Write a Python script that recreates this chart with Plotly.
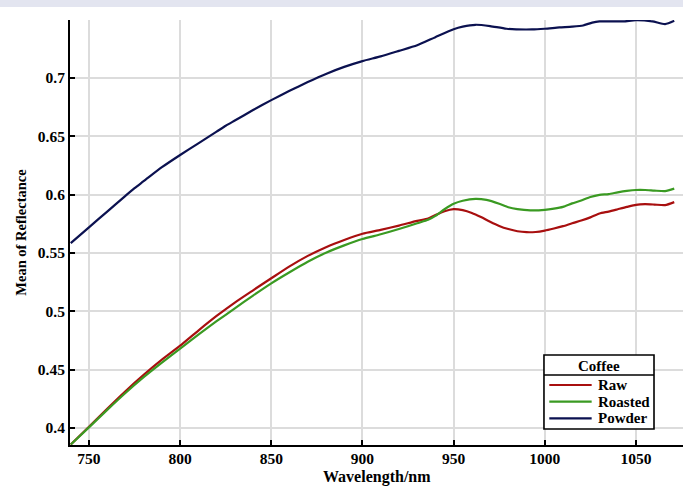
import plotly.graph_objects as go

# ---- data ----
powder_wl = [740, 750, 760, 770, 775, 780, 790, 800, 810, 820, 825, 830, 840, 850, 860, 870, 880,
             890, 900, 910, 920, 930, 940, 950, 955, 962, 970, 979, 993, 1000, 1008, 1015, 1021,
             1026, 1030, 1043, 1050, 1059, 1066, 1071]
powder = [0.5584, 0.5720, 0.5855, 0.5990, 0.6056, 0.6115, 0.6235, 0.6340, 0.6440, 0.6540, 0.6590,
          0.6635, 0.6725, 0.6810, 0.6890, 0.6965, 0.7035, 0.7095, 0.7145, 0.7185, 0.7232, 0.7280,
          0.7350, 0.7418, 0.7440, 0.7456, 0.7445, 0.7422, 0.7416, 0.7422, 0.7433, 0.7440, 0.7450,
          0.7475, 0.7485, 0.7485, 0.7495, 0.7485, 0.7462, 0.7490]

raw_wl = [740, 750, 760, 770, 780, 790, 800, 810, 820, 830, 840, 850, 860, 870, 880, 890,
          900, 910, 920, 930, 936, 940, 945, 950, 955, 960, 965, 970, 975, 980, 985, 990, 995, 1000,
          1005, 1010, 1015, 1020, 1025, 1030, 1035, 1040, 1045, 1050, 1055, 1060, 1066, 1071]
raw = [0.3858, 0.4010, 0.4165, 0.4315, 0.4455, 0.4585, 0.4705, 0.4835, 0.4960, 0.5075, 0.5180,
       0.5283, 0.5385, 0.5475, 0.5550, 0.5612, 0.5665, 0.5698, 0.5735, 0.5775, 0.5795, 0.5825,
       0.5858, 0.5876, 0.5867, 0.5843, 0.5808, 0.5768, 0.5732, 0.5705, 0.5686, 0.5678, 0.5680,
       0.5692, 0.5710, 0.5730, 0.5755, 0.5778, 0.5805, 0.5838, 0.5855, 0.5875, 0.5895, 0.5913,
       0.5918, 0.5915, 0.5910, 0.5936]

roasted_wl = [740, 750, 760, 770, 780, 790, 800, 810, 820, 830, 840, 850, 860, 870, 880, 890,
              900, 910, 920, 930, 936, 940, 945, 950, 955, 962, 968, 975, 980, 985, 992, 1000, 1005,
              1010, 1015, 1020, 1025, 1030, 1035, 1040, 1045, 1050, 1055, 1060, 1066, 1071]
roasted = [0.3858, 0.4005, 0.4155, 0.4300, 0.4435, 0.4560, 0.4680, 0.4800, 0.4915, 0.5025,
           0.5135, 0.5240, 0.5335, 0.5425, 0.5502, 0.5565, 0.5620, 0.5660, 0.5705, 0.5755,
           0.5784, 0.5818, 0.5875, 0.5922, 0.5948, 0.5964, 0.5955, 0.5922, 0.5892, 0.5876,
           0.5866, 0.5870, 0.5880, 0.5895, 0.5925, 0.5950, 0.5980, 0.5998, 0.6005, 0.6020,
           0.6032, 0.6040, 0.6040, 0.6035, 0.6030, 0.6052]

x_ticks = [750, 800, 850, 900, 950, 1000, 1050]
y_ticks = [0.4, 0.45, 0.5, 0.55, 0.6, 0.65, 0.7]
y_tick_labels = ["0.4", "0.45", "0.5", "0.55", "0.6", "0.65", "0.7"]

x_title = "Wavelength/nm"
y_title = "Mean of Reflectance"
legend_title = "Coffee"
series = [
    ("Raw", raw_wl, raw, "#a80f0f"),
    ("Roasted", roasted_wl, roasted, "#3a9a22"),
    ("Powder", powder_wl, powder, "#0b1150"),
]

FONT = "Liberation Serif"

fig = go.Figure()
for name, xs, ys, color in series:
    fig.add_trace(go.Scatter(
        x=xs, y=ys, name=name, mode="lines", showlegend=False,
        line=dict(color=color, width=2.2, shape="spline", smoothing=0.6),
    ))

# ---- legend box (drawn in paper coords) ----
shapes = [
    dict(type="rect", xref="paper", yref="paper", x0=-0.2, x1=1.0,
         y0=1.0 + 13 / 425, y1=1.0 + 20 / 425,
         fillcolor="#e3e5f0", line=dict(width=0), layer="below"),
    dict(type="rect", xref="paper", yref="paper", x0=0.7732, x1=0.9527, y0=0.0376, y1=0.2118,
         fillcolor="white", line=dict(color="black", width=1.6), layer="above"),
    dict(type="line", xref="paper", yref="paper", x0=0.7732, x1=0.9527, y0=0.1647, y1=0.1647,
         line=dict(color="black", width=1.4), layer="above"),
]
annotations = [
    dict(xref="paper", yref="paper", x=0.8627, y=0.1859, text=f"<b>{legend_title}</b>",
         showarrow=False, xanchor="center", yanchor="middle",
         font=dict(family=FONT, size=15, color="black")),
    dict(xref="paper", yref="paper", x=0.5, y=-(477 - 445) / 425, text=f"<b>{x_title}</b>",
         showarrow=False, xanchor="center", yanchor="middle", borderpad=0,
         font=dict(family=FONT, size=16, color="black")),
]
entry_y = [0.1412, 0.1019, 0.0628]
for (name, _, _, color), ey in zip(series, entry_y):
    shapes.append(dict(type="line", xref="paper", yref="paper", x0=0.7819, x1=0.851,
                       y0=ey, y1=ey, line=dict(color=color, width=2.2), layer="above"))
    annotations.append(dict(xref="paper", yref="paper", x=0.8576, y=ey, text=f"<b>{name}</b>",
                            showarrow=False, xanchor="left", yanchor="middle",
                            font=dict(family=FONT, size=15, color="black")))

fig.update_layout(
    width=683, height=486,
    margin=dict(l=70, r=0, t=20, b=41),
    paper_bgcolor="white", plot_bgcolor="white",
    font=dict(family=FONT, size=15, color="black"),
    showlegend=False,
    xaxis=dict(
        range=[739.6, 1075.8], tickvals=x_ticks,
        ticktext=[f"<b>{v}</b>" for v in x_ticks],
        showgrid=True, gridcolor="#dcdcdc", gridwidth=1.5,
        showline=True, linecolor="black", linewidth=2,
        ticks="inside", ticklen=5, tickwidth=1.5, tickcolor="black",
        tickfont=dict(family=FONT, size=15.5, color="black"),
        ticklabelstandoff=-2,
        zeroline=False, automargin=False,
    ),
    yaxis=dict(
        range=[0.3854, 0.7497], tickvals=y_ticks,
        ticktext=[f"<b>{t}</b>" for t in y_tick_labels],
        showgrid=True, gridcolor="#dcdcdc", gridwidth=1.5,
        showline=True, linecolor="black", linewidth=2,
        ticks="inside", ticklen=5, tickwidth=1.5, tickcolor="black",
        tickfont=dict(family=FONT, size=15.5, color="black"),
        title=dict(text=f"<b>{y_title}</b>", standoff=8,
                   font=dict(family=FONT, size=14.5, color="black")),
        zeroline=False, automargin=False,
    ),
    shapes=shapes,
    annotations=annotations,
)

fig.write_html("out.html")
